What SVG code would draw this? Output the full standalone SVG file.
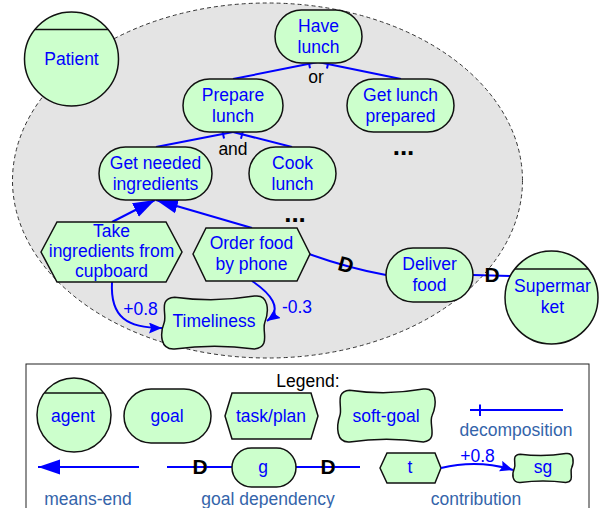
<svg xmlns="http://www.w3.org/2000/svg" width="599" height="508" viewBox="0 0 599 508">
<defs>
<style>
.n{fill:#ccffcc;stroke:#111;stroke-width:1.5}
.h{stroke:#111;stroke-width:1.5}
.t{font-family:"Liberation Sans",Arial,sans-serif;font-size:17.5px;fill:#0000ff;text-anchor:middle}
.k{font-family:"Liberation Sans",Arial,sans-serif;font-size:17.5px;fill:#000;text-anchor:middle}
.lg{font-family:"Liberation Sans",Arial,sans-serif;font-size:17.5px;fill:#3464aa;text-anchor:middle}
.d{font-family:"Liberation Sans",Arial,sans-serif;font-size:21px;font-weight:bold;fill:#000;text-anchor:middle}
.dots{font-family:"Liberation Sans",Arial,sans-serif;font-size:26px;font-weight:bold;fill:#000;text-anchor:middle}
.c{fill:none;stroke:#0000ff;stroke-width:2}
</style>
<marker id="me" markerUnits="userSpaceOnUse" markerWidth="24" markerHeight="16" refX="22" refY="8" orient="auto"><path d="M0,0.5 L22,8 L0,15.5 z" fill="#0000ff"/></marker>
<marker id="ct" markerUnits="userSpaceOnUse" markerWidth="14" markerHeight="12" refX="13" refY="5.5" orient="auto"><path d="M0,0 L13,5.5 L0,11 L2,5.5 z" fill="#0000ff"/></marker>
</defs>

<ellipse cx="267.5" cy="180.5" rx="255" ry="177.5" fill="#e4e4e4" stroke="#333" stroke-width="1" stroke-dasharray="4,3"/>

<g id="connectors">
<line class="c" x1="318" y1="62" x2="233" y2="79"/>
<line class="c" x1="318" y1="62" x2="401" y2="79"/>
<line class="c" x1="308.2" y1="59.3" x2="310" y2="68.3"/>
<line class="c" x1="328.9" y1="59.5" x2="327" y2="68.5"/>
<line class="c" x1="233" y1="132" x2="156" y2="147"/>
<line class="c" x1="233" y1="132" x2="292" y2="147"/>
<line class="c" x1="222.2" y1="129.5" x2="224" y2="138.5"/>
<line class="c" x1="243.2" y1="129.8" x2="241" y2="138.8"/>
<line class="c" x1="112" y1="222" x2="155" y2="200" marker-end="url(#me)"/>
<line class="c" x1="252" y1="228" x2="156" y2="200" marker-end="url(#me)"/>
<path class="c" d="M112,282 C110,318 128,328 162,328" marker-end="url(#ct)"/>
<path class="c" d="M252,281 C270,293 284,309 267,321" marker-end="url(#ct)"/>
<path class="c" d="M309,254 Q348,268 386,275"/>
<line class="c" x1="473" y1="275" x2="510" y2="276"/>
<text class="d" x="346" y="272" transform="rotate(15 346 265)">D</text>
<text class="d" x="492" y="282">D</text>
<text class="t" x="140.5" y="315">+0.8</text>
<text class="t" x="297" y="313">-0.3</text>
</g>

<g id="patient">
<circle class="n" cx="71.5" cy="59" r="47"/>
<line class="h" x1="35" y1="29.5" x2="108" y2="29.5"/>
<text class="t" x="71.5" y="65">Patient</text>
</g>

<g id="have-lunch">
<rect class="n" x="275" y="10" width="87" height="53" rx="26.5"/>
<text class="t" x="318.5" y="31.5">Have</text>
<text class="t" x="318.5" y="52.5">lunch</text>
</g>
<text class="k" x="316" y="83">or</text>

<g id="prepare-lunch">
<rect class="n" x="183" y="79" width="100" height="53" rx="26.5"/>
<text class="t" x="233" y="100.5">Prepare</text>
<text class="t" x="233" y="121.5">lunch</text>
</g>

<g id="get-lunch-prepared">
<rect class="n" x="347" y="79" width="107" height="53" rx="26.5"/>
<text class="t" x="400.5" y="100.5">Get lunch</text>
<text class="t" x="400.5" y="121.5">prepared</text>
</g>
<text class="dots" x="403.5" y="155">...</text>
<text class="k" x="233" y="155">and</text>

<g id="get-needed-ingredients">
<rect class="n" x="99" y="147" width="113" height="53" rx="26.5"/>
<text class="t" x="155.5" y="168.5">Get needed</text>
<text class="t" x="155.5" y="189.5">ingredients</text>
</g>

<g id="cook-lunch">
<rect class="n" x="249" y="147" width="87" height="53" rx="26.5"/>
<text class="t" x="292.5" y="169">Cook</text>
<text class="t" x="292.5" y="190">lunch</text>
</g>
<text class="dots" x="295" y="222">...</text>

<g id="take-ingredients">
<polygon class="n" points="41,252 57,222 166,222 182,252 166,282 57,282"/>
<text class="t" x="111.5" y="236.5">Take</text>
<text class="t" x="111.5" y="256.5">ingredients from</text>
<text class="t" x="111.5" y="277">cupboard</text>
</g>

<g id="order-food">
<polygon class="n" points="193,254 206,228 297,228 310,254 297,281 206,281"/>
<text class="t" x="251.5" y="249">Order food</text>
<text class="t" x="251.5" y="270">by phone</text>
</g>

<g id="timeliness">
<path class="n" d="M174.6,297.2 Q214.5,302.7 254.4,296.1 C269.1,293.9 269.1,311.5 264.8,322.5 C261.6,330.8 271.2,347.25 254.4,348.9 Q214.5,343.4 174.6,348.9 C159.9,350 159.9,333.5 164.2,322.5 C167.3,314.3 157.8,298.3 174.6,297.2 Z"/>
<text class="t" x="214" y="327">Timeliness</text>
</g>

<g id="deliver-food">
<rect class="n" x="386" y="248" width="87" height="54" rx="27"/>
<text class="t" x="429.5" y="270">Deliver</text>
<text class="t" x="429.5" y="291">food</text>
</g>

<g id="supermarket">
<circle class="n" cx="551.5" cy="297.5" r="46.5"/>
<line class="h" x1="515" y1="269" x2="588" y2="269"/>
<text class="t" x="552.5" y="292">Supermar</text>
<text class="t" x="552.5" y="313">ket</text>
</g>

<g id="legend">
<rect x="26" y="364" width="563" height="160" fill="#fff" stroke="#222" stroke-width="1"/>
<text class="k" x="308" y="387">Legend:</text>
<circle class="n" cx="74" cy="415" r="37"/>
<line class="h" x1="44.5" y1="393" x2="103.5" y2="393"/>
<text class="t" x="73" y="422">agent</text>
<rect class="n" x="124" y="389" width="87" height="54" rx="27"/>
<text class="t" x="167" y="422">goal</text>
<polygon class="n" points="225,416 232,393 311,393 318,416 311,439 232,439"/>
<text class="t" x="271" y="422">task/plan</text>
<path class="n" d="M349.6,390.2 Q386.5,395.7 423.4,389.1 C437,386.9 437,404.5 432.1,415.5 C428.2,423.75 438.9,440.25 423.4,441.9 Q386.5,436.4 349.6,441.9 C336.1,443 336.1,426.5 339.9,415.5 C342.8,407.25 334.1,391.3 349.6,390.2 Z"/>
<text class="t" x="386" y="422">soft-goal</text>
<line class="c" x1="470" y1="410" x2="563" y2="410"/>
<line class="c" x1="480" y1="404.5" x2="480" y2="416"/>
<text class="lg" x="516" y="436">decomposition</text>
<line class="c" x1="139" y1="467" x2="38" y2="467" marker-end="url(#me)"/>
<text class="lg" x="88" y="505">means-end</text>
<line class="c" x1="167" y1="467" x2="360" y2="467"/>
<text class="d" x="200" y="474">D</text>
<text class="d" x="328" y="474">D</text>
<rect class="n" x="232" y="448" width="64" height="39" rx="19.5"/>
<text class="t" x="263" y="473">g</text>
<text class="lg" x="268" y="505">goal dependency</text>
<polygon class="n" points="380,468 387,453 435,453 441,468 435,483 387,483"/>
<text class="t" x="410" y="473">t</text>
<path class="c" d="M441,468 Q478,459 513,470" marker-end="url(#ct)"/>
<text class="t" x="477.5" y="462">+0.8</text>
<path class="n" d="M520.2,454.2 Q543,457.2 565.8,453.6 C574.2,452.4 574.2,462 571.6,468 C569.2,472.5 575.4,481.5 565.8,482.4 Q543,479.4 520.2,482.4 C511.8,483 511.8,474 514.4,468 C516.6,463.5 510.6,454.8 520.2,454.2 Z"/>
<text class="t" x="543" y="473">sg</text>
<text class="lg" x="476" y="505">contribution</text>
</g>
</svg>
